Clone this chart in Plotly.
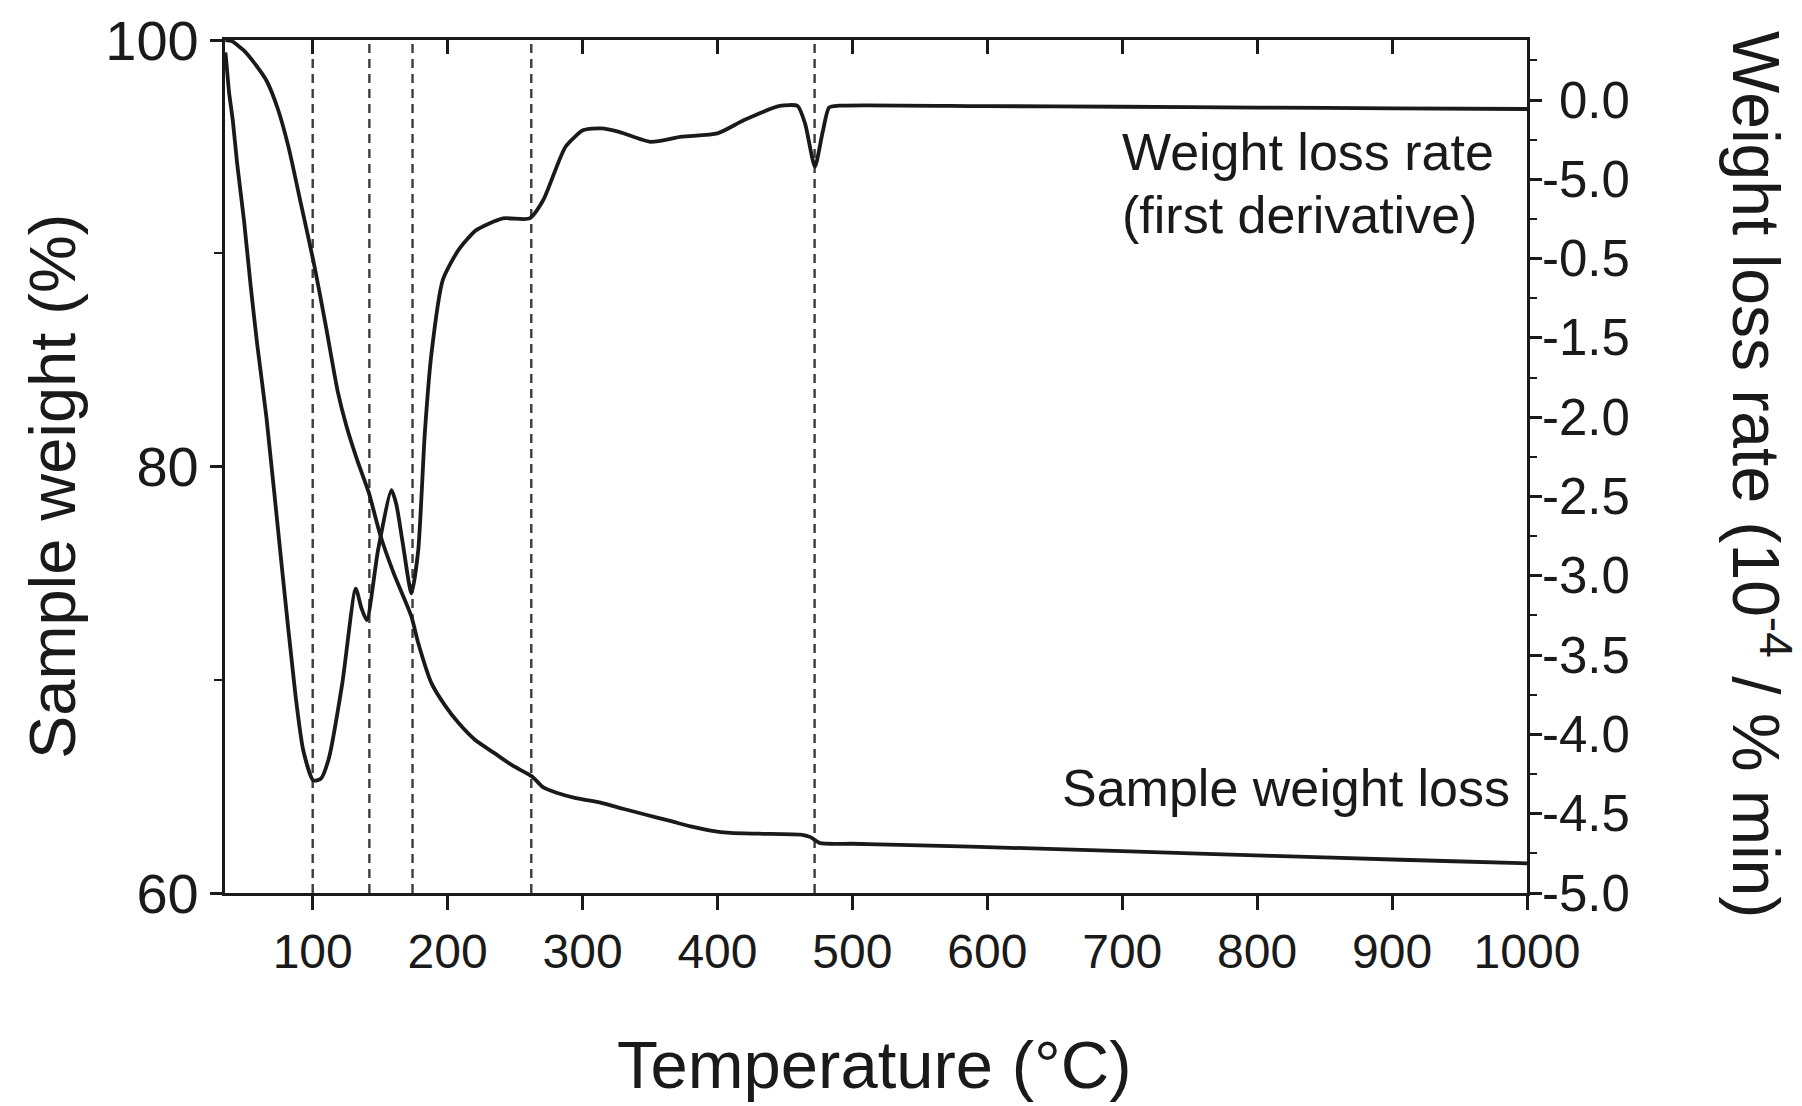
import plotly.graph_objects as go

# ---------------- data ----------------
tga_temp = [35.3, 40, 49.1, 57, 65.7, 74, 82.0, 91, 101.3, 110, 118.6, 125, 133, 141.7, 150, 160,
            173.2, 178.2, 188, 198, 208, 220, 234.4, 248, 262.6, 271, 280.7, 295, 313.9, 330, 347,
            365, 380.1, 395, 409.7, 430, 462.9, 469, 476.1, 500, 535, 639, 700, 812, 900, 995, 1000]
tga_weight = [100.0, 99.95, 99.5, 98.9, 98.1, 96.8, 95.0, 92.4, 89.4, 86.5, 83.5, 81.9, 80.3, 78.75, 76.8, 75.0,
              72.96, 71.72, 69.84, 68.8, 67.98, 67.2, 66.57, 65.98, 65.46, 64.95, 64.70, 64.45, 64.23, 63.95, 63.67,
              63.38, 63.12, 62.93, 62.82, 62.78, 62.73, 62.62, 62.34, 62.31, 62.26, 62.08, 61.96, 61.74, 61.57, 61.4, 61.39]

dtg_temp = [35.3, 35.9, 38, 40.8, 44, 49.1, 54, 59, 65.7, 77.2, 87.2, 93, 100.4, 106, 112, 121.9, 131.9,
            136, 140.1, 148.4, 158.4, 162, 166.5, 173.2, 178.2, 183.1, 188, 196.4, 208, 221.2, 241.1,
            260.7, 270.9, 287.4, 300.7, 313.9, 327.1, 350.4, 373.4, 400, 419.8, 446.1, 459.4, 465,
            472.2, 478, 482.8, 490, 600, 700, 800, 900, 1000]
dtg_rate = [0.30, 0.25, 0.05, -0.13, -0.40, -0.76, -1.17, -1.55, -2.0, -2.95, -3.75, -4.1, -4.29, -4.28, -4.15, -3.68, -3.08,
            -3.2, -3.28, -2.84, -2.46, -2.55, -2.78, -3.11, -2.84, -2.1, -1.6, -1.135, -0.946, -0.82, -0.746,
            -0.746, -0.63, -0.294, -0.189, -0.178, -0.2, -0.263, -0.231, -0.21, -0.126, -0.037, -0.037, -0.15,
            -0.42, -0.2, -0.046, -0.035, -0.038, -0.042, -0.047, -0.052, -0.056]

event_temps = [100, 142, 174, 262, 472]

x_ticks = [100, 200, 300, 400, 500, 600, 700, 800, 900, 1000]
left_ticks = [60, 80, 100]
left_minor = [70, 90]
right_tickvals = [0.0, -0.5, -1.0, -1.5, -2.0, -2.5, -3.0, -3.5, -4.0, -4.5, -5.0]
right_ticktext = ["0.0", "-5.0", "-0.5", "-1.5", "-2.0", "-2.5", "-3.0", "-3.5", "-4.0", "-4.5", "-5.0"]
right_minor = [0.25, -0.25, -0.75, -1.25, -1.75, -2.25, -2.75, -3.25, -3.75, -4.25, -4.75]

FONT = "Liberation Sans, Arial, sans-serif"
INK = "#1a1a1a"

fig = go.Figure()

fig.add_trace(go.Scatter(x=tga_temp, y=tga_weight, mode="lines", xaxis="x", yaxis="y",
                         line=dict(color=INK, width=3.8, shape="spline", smoothing=0.6),
                         showlegend=False, name="Sample weight loss"))
fig.add_trace(go.Scatter(x=dtg_temp, y=dtg_rate, mode="lines", xaxis="x", yaxis="y2",
                         line=dict(color=INK, width=3.8, shape="spline", smoothing=0.6),
                         showlegend=False, name="Weight loss rate"))
# invisible trace to anchor the top axis
fig.add_trace(go.Scatter(x=[x_ticks[0]], y=[left_ticks[0]], mode="markers", xaxis="x2", yaxis="y",
                         marker=dict(opacity=0), showlegend=False, hoverinfo="skip"))

for t in event_temps:
    fig.add_shape(type="line", x0=t, x1=t, xref="x", y0=0, y1=1, yref="paper",
                  line=dict(color="#3c3c3c", width=2.4, dash="9px,6px"), layer="below")

def tf(size):
    return dict(family=FONT, size=size, color=INK)

annotations = [
    dict(text="Temperature (°C)", xref="paper", yref="paper", x=0.499, y=-0.2016,
         xanchor="center", yanchor="middle", showarrow=False, font=tf(67)),
    dict(text="Sample weight (%)", xref="paper", yref="paper", x=-0.1329, y=0.477,
         xanchor="center", yanchor="middle", textangle=-90, showarrow=False, font=tf(65)),
    dict(text="Weight loss rate (10<sup>-4</sup> / % min)", xref="paper", yref="paper", x=1.179, y=0.491,
         xanchor="center", yanchor="middle", textangle=90, showarrow=False, font=tf(66)),
    dict(text="Weight loss rate", xref="paper", yref="paper", x=0.6874, y=0.8687,
         xanchor="left", yanchor="middle", showarrow=False, font=tf(52)),
    dict(text="(first derivative)", xref="paper", yref="paper", x=0.6874, y=0.7948,
         xanchor="left", yanchor="middle", showarrow=False, font=tf(52)),
    dict(text="Sample weight loss", xref="paper", yref="paper", x=0.6413, y=0.1231,
         xanchor="left", yanchor="middle", showarrow=False, font=tf(52)),
]
# right-aligned tick labels of the right axis (placed at the axis' own values)
for v, txt in zip(right_tickvals, right_ticktext):
    annotations.append(dict(text=txt, xref="paper", yref="y2", x=1.081, y=v,
                            xanchor="right", yanchor="middle", showarrow=False, font=tf(51)))

fig.update_layout(
    width=1802, height=1106,
    margin=dict(l=225, r=275, t=40, b=213),
    paper_bgcolor="white", plot_bgcolor="white",
    font=dict(family=FONT, color=INK),
    xaxis=dict(range=[35, 1000], tickvals=x_ticks, ticks="outside", ticklen=14, tickwidth=2.5,
               tickcolor=INK, showline=True, linewidth=3.2, linecolor=INK, showgrid=False,
               zeroline=False, tickfont=tf(48), automargin=False),
    xaxis2=dict(range=[35, 1000], overlaying="x", side="top", tickvals=x_ticks, ticks="inside",
                ticklen=14, tickwidth=2.5, tickcolor=INK, showline=True, linewidth=3.2, linecolor=INK,
                showticklabels=False, showgrid=False, zeroline=False, automargin=False),
    yaxis=dict(range=[60, 100], tickvals=left_ticks, ticks="outside", ticklen=12, tickwidth=2.5,
               tickcolor=INK, showline=True, linewidth=3.2, linecolor=INK, showgrid=False,
               zeroline=False, tickfont=tf(56), automargin=False,
               minor=dict(tickvals=left_minor, ticks="outside", ticklen=8, tickwidth=2, tickcolor=INK)),
    yaxis2=dict(range=[-5.0, 0.379], overlaying="y", side="right", tickvals=right_tickvals,
                ticks="outside", ticklen=12, tickwidth=2.5, tickcolor=INK, showticklabels=False,
                showline=True, linewidth=3.2, linecolor=INK, showgrid=False, zeroline=False,
                automargin=False,
                minor=dict(tickvals=right_minor, ticks="outside", ticklen=7, tickwidth=2, tickcolor=INK)),
    annotations=annotations,
)

fig.write_html("out.html", config={"displayModeBar": False},
               post_script="document.body.style.margin='0';document.body.style.overflow='hidden';")
